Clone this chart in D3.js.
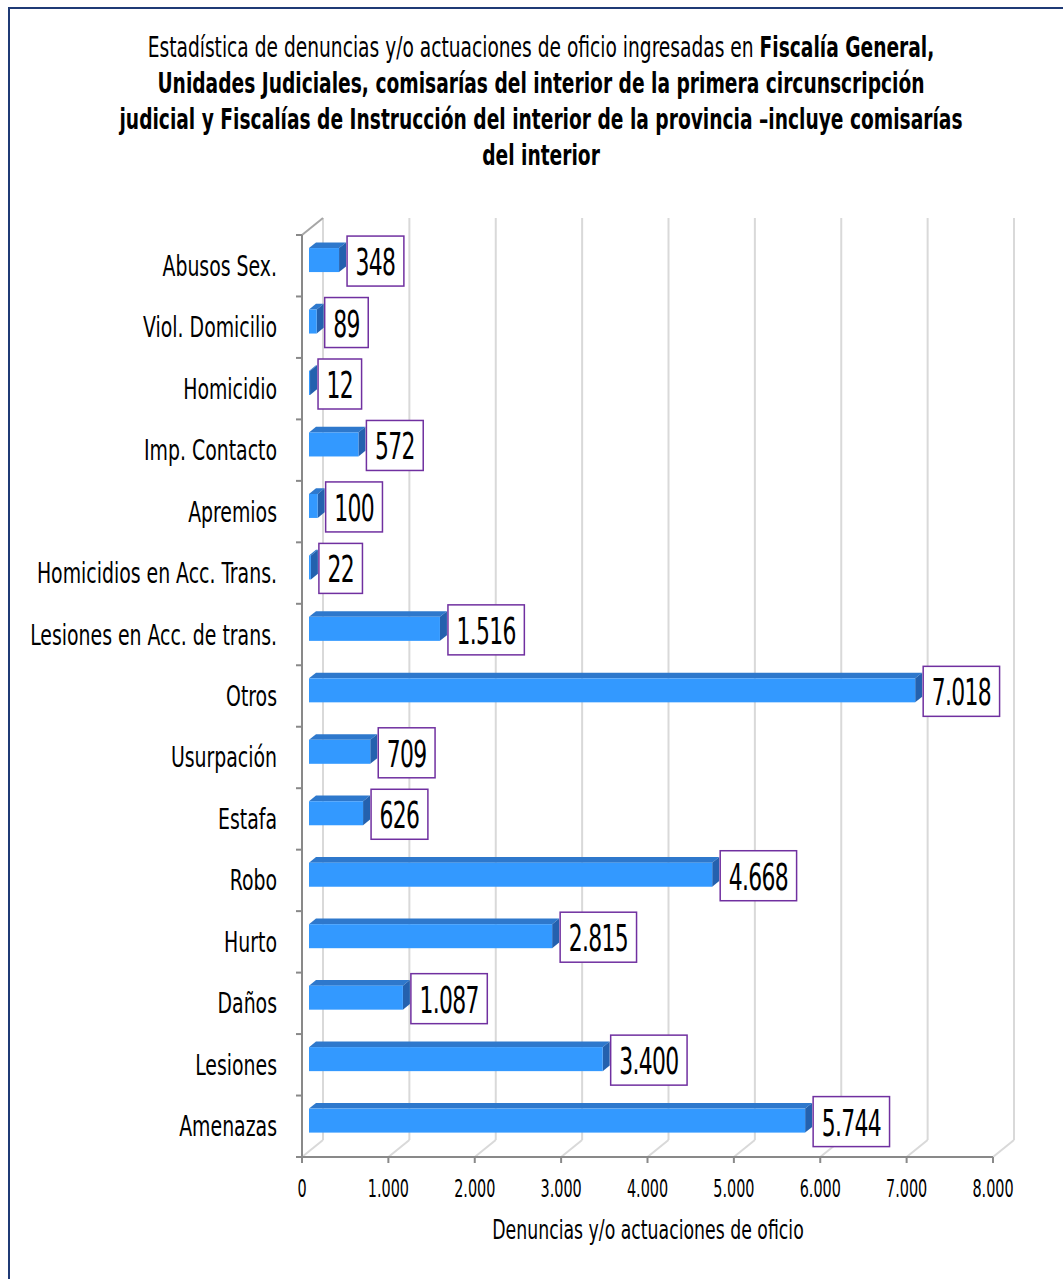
<!DOCTYPE html>
<html>
<head>
<meta charset="utf-8">
<script src="https://cdn.jsdelivr.net/npm/d3@7"></script>
<style>
  body { margin: 0; background: #fff; }
  svg text { font-family: "DejaVu Sans Condensed", "DejaVu Sans", sans-serif; fill: #000; }
</style>
</head>
<body>
<div id="chart"></div>
<script>
// Data
var categories = ["Abusos Sex.", "Viol. Domicilio", "Homicidio", "Imp. Contacto", "Apremios",
                  "Homicidios en Acc. Trans.", "Lesiones en Acc. de trans.", "Otros", "Usurpación",
                  "Estafa", "Robo", "Hurto", "Daños", "Lesiones", "Amenazas"];
var values = [348, 89, 12, 572, 100, 22, 1516, 7018, 709, 626, 4668, 2815, 1087, 3400, 5744];
var xTicks = [0, 1000, 2000, 3000, 4000, 5000, 6000, 7000, 8000];
var titleLines = [
  [["Estadística de denuncias y/o actuaciones de oficio ingresadas en ", false], ["Fiscalía General,", true]],
  [["Unidades Judiciales, comisarías del interior de la primera circunscripción", true]],
  [["judicial y Fiscalías de Instrucción del interior de la provincia –incluye comisarías", true]],
  [["del interior", true]]
];
var xTitle = "Denuncias y/o actuaciones de oficio";

// Size
var W = 1063, H = 1279,
    plot = {left: 302, right: 993, top: 235, bottom: 1157},
    depth = {dx: 21, dy: -17},
    barH = 24;

var colors = {front: "#3399FF", top: "#2E78CC", side: "#2461AE",
              grid: "#D9D9D9", axis: "#898989", box: "#7030A0", frame: "#1F3A75"};

var fmt = d3.formatLocale({decimal: ",", thousands: ".", grouping: [3], currency: ["$", ""]}).format(",d");

var x = d3.scaleLinear().domain([0, 8000]).range([plot.left, plot.right]);
var y = d3.scaleBand().domain(categories).range([plot.top, plot.bottom]);

var svg = d3.select("#chart").append("svg")
  .attr("width", W).attr("height", H);

// Frame
svg.append("rect")
  .attr("x", 9).attr("y", 8).attr("width", 1100).attr("height", 1400)
  .attr("fill", "none").attr("stroke", colors.frame).attr("stroke-width", 2);

// condensed text helper
function ctext(g, tx, ty, size, anchor, scale) {
  return g.append("text")
    .attr("transform", "translate(" + tx + "," + ty + ") scale(" + scale + ",1)")
    .style("font-size", size + "px")
    .attr("text-anchor", anchor);
}

// Title
titleLines.forEach(function(line, i) {
  var t = ctext(svg, 541, 57 + i * 36, 29, "middle", 0.715);
  line.forEach(function(p) {
    t.append("tspan").attr("font-weight", p[1] ? "bold" : "normal").text(p[0]);
  });
});

// Back wall gridlines + floor diagonals
var grid = svg.append("g");
grid.selectAll(".vgrid").data(xTicks).enter().append("line")
  .attr("x1", function(d) { return x(d) + depth.dx; })
  .attr("x2", function(d) { return x(d) + depth.dx; })
  .attr("y1", plot.top + depth.dy)
  .attr("y2", plot.bottom + depth.dy)
  .attr("stroke", colors.grid).attr("stroke-width", 2);
grid.selectAll(".diag").data(xTicks).enter().append("line")
  .attr("x1", function(d) { return x(d); })
  .attr("x2", function(d) { return x(d) + depth.dx; })
  .attr("y1", plot.bottom)
  .attr("y2", plot.bottom + depth.dy)
  .attr("stroke", colors.grid).attr("stroke-width", 2);

// Left wall top edge
svg.append("line")
  .attr("x1", plot.left).attr("y1", plot.top)
  .attr("x2", plot.left + depth.dx).attr("y2", plot.top + depth.dy)
  .attr("stroke", "#A6A6A6").attr("stroke-width", 2);

// Axes
var axisG = svg.append("g");
axisG.append("line")
  .attr("x1", plot.left).attr("x2", plot.left)
  .attr("y1", plot.top).attr("y2", plot.bottom)
  .attr("stroke", colors.axis).attr("stroke-width", 2);
axisG.append("line")
  .attr("x1", plot.left).attr("x2", plot.right)
  .attr("y1", plot.bottom).attr("y2", plot.bottom)
  .attr("stroke", colors.axis).attr("stroke-width", 2);
axisG.selectAll(".xt").data(xTicks).enter().append("line")
  .attr("x1", function(d) { return x(d); })
  .attr("x2", function(d) { return x(d); })
  .attr("y1", plot.bottom).attr("y2", plot.bottom + 6)
  .attr("stroke", colors.axis).attr("stroke-width", 2);
var yBounds = categories.map(function(c) { return y(c); }).concat([plot.bottom]);
axisG.selectAll(".yt").data(yBounds).enter().append("line")
  .attr("x1", plot.left - 6).attr("x2", plot.left)
  .attr("y1", function(d) { return d; }).attr("y2", function(d) { return d; })
  .attr("stroke", colors.axis).attr("stroke-width", 2);

// Tick labels
xTicks.forEach(function(d) {
  ctext(svg, x(d), 1197, 25, "middle", 0.64).text(fmt(d));
});
categories.forEach(function(c) {
  ctext(svg, 277, y(c) + y.bandwidth() / 2 + 10, 28, "end", 0.75).text(c);
});
ctext(svg, 648, 1239, 26, "middle", 0.74).text(xTitle);

// Bars (3D)
var ox = depth.dx / 3, oy = depth.dy / 3;
var bars = svg.append("g").selectAll(".bar")
  .data(categories.map(function(c, i) { return {name: c, value: values[i]}; }))
  .enter().append("g").attr("class", "bar");

function pts(a) { return a.map(function(p) { return p.join(","); }).join(" "); }

bars.each(function(d) {
  var g = d3.select(this),
      x0 = x(0) + ox, x1 = x(d.value) + ox,
      yc = y(d.name) + y.bandwidth() / 2 + oy,
      y0 = yc - barH / 2, y1 = yc + barH / 2;
  g.append("polygon").attr("fill", colors.top)
    .attr("points", pts([[x0, y0], [x1, y0], [x1 + ox, y0 + oy], [x0 + ox, y0 + oy]]));
  g.append("polygon").attr("fill", colors.side)
    .attr("points", pts([[x1, y0], [x1 + ox, y0 + oy], [x1 + ox, y1 + oy], [x1, y1]]));
  g.append("rect").attr("fill", colors.front)
    .attr("x", x0).attr("y", y0).attr("width", Math.max(0, x1 - x0)).attr("height", barH);

  // value label box
  var lx = x1 + ox + 1, ly = yc + 1, s = 0.64;
  var box = g.append("rect")
    .attr("fill", "#fff").attr("stroke", colors.box).attr("stroke-width", 1.5);
  var t = ctext(g, 0, ly + 14, 38, "middle", s)
    .attr("letter-spacing", "-1px").text(fmt(d.value));
  var tw = t.node().getComputedTextLength() * s;
  var bw = tw + 17;
  t.attr("transform", "translate(" + (lx + bw / 2) + "," + (ly + 14) + ") scale(" + s + ",1)");
  box.attr("x", lx).attr("y", ly - 25).attr("width", bw).attr("height", 50);
});
</script>
</body>
</html>
